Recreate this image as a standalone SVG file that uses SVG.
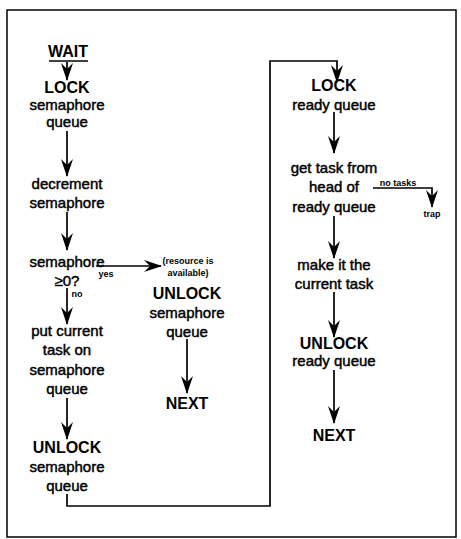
<svg xmlns="http://www.w3.org/2000/svg" width="461" height="539" viewBox="0 0 461 539">
<style>
text{font-family:"Liberation Sans",Arial,sans-serif;fill:#000;text-anchor:middle}
.t{font-size:15px;stroke:#000;stroke-width:0.45}
.b{font-size:16px;font-weight:bold}
.s{font-size:9px;font-weight:bold}
.ln{fill:none;stroke:#000;stroke-width:1.7}
</style>
<defs>
<marker id="ah" markerWidth="18" markerHeight="12" refX="17" refY="6" orient="auto" markerUnits="userSpaceOnUse" viewBox="0 0 18 12">
<path d="M0,0 L6,6 L0,12 L18,6 Z" fill="#000"/>
</marker>
</defs>
<rect x="7" y="10" width="449" height="527" fill="#fff" stroke="#000" stroke-width="1.5"/>
<g id="connectors">
<path class="ln" d="M67,62 V80" marker-end="url(#ah)"/>
<path class="ln" d="M67,131 V176" marker-end="url(#ah)"/>
<path class="ln" d="M67,212 V250" marker-end="url(#ah)"/>
<path class="ln" d="M67,288 V324" marker-end="url(#ah)"/>
<path class="ln" d="M96,266 H161" marker-end="url(#ah)"/>
<path class="ln" d="M67,398 V439" marker-end="url(#ah)"/>
<path class="ln" d="M67,494 V506 H270 V61 H337 V82" marker-end="url(#ah)"/>
<path class="ln" d="M187,339 V393" marker-end="url(#ah)"/>
<path class="ln" d="M334,112 V153" marker-end="url(#ah)"/>
<path class="ln" d="M373,188 H432 V207" marker-end="url(#ah)"/>
<path class="ln" d="M334,216 V258" marker-end="url(#ah)"/>
<path class="ln" d="M334,292 V337" marker-end="url(#ah)"/>
<path class="ln" d="M334,370 V423" marker-end="url(#ah)"/>
</g>
<g id="wait">
<text class="b" x="68" y="57">WAIT</text>
<line x1="49" y1="61" x2="88" y2="61" stroke="#000" stroke-width="1.6"/>
</g>
<g id="lock-sem">
<text class="b" x="67" y="93">LOCK</text>
<text class="t" x="67" y="110">semaphore</text>
<text class="t" x="67" y="127">queue</text>
</g>
<g id="decrement">
<text class="t" x="67" y="189">decrement</text>
<text class="t" x="67" y="208">semaphore</text>
</g>
<g id="test">
<text class="t" x="67" y="267">semaphore</text>
<text class="t" x="67" y="286">≥0?</text>
<text class="s" x="106" y="277">yes</text>
<text class="s" x="77" y="297">no</text>
</g>
<g id="put">
<text class="t" x="67" y="336">put current</text>
<text class="t" x="67" y="355">task on</text>
<text class="t" x="67" y="375">semaphore</text>
<text class="t" x="67" y="394">queue</text>
</g>
<g id="unlock-sem">
<text class="b" x="67" y="453">UNLOCK</text>
<text class="t" x="67" y="472">semaphore</text>
<text class="t" x="67" y="491">queue</text>
</g>
<g id="avail">
<text class="s" x="188" y="264">(resource is</text>
<text class="s" x="188" y="276">available)</text>
<text class="b" x="187" y="299">UNLOCK</text>
<text class="t" x="187" y="318">semaphore</text>
<text class="t" x="187" y="337">queue</text>
</g>
<g id="next1">
<text class="b" x="187" y="409">NEXT</text>
</g>
<g id="lock-ready">
<text class="b" x="334" y="91">LOCK</text>
<text class="t" x="334" y="110">ready queue</text>
</g>
<g id="get-task">
<text class="t" x="334" y="173">get task from</text>
<text class="t" x="334" y="192">head of</text>
<text class="t" x="334" y="212">ready queue</text>
<text class="s" x="398" y="186">no tasks</text>
</g>
<g id="trap">
<text class="s" x="432" y="217">trap</text>
</g>
<g id="make-current">
<text class="t" x="334" y="270">make it the</text>
<text class="t" x="334" y="289">current task</text>
</g>
<g id="unlock-ready">
<text class="b" x="334" y="349">UNLOCK</text>
<text class="t" x="334" y="366">ready queue</text>
</g>
<g id="next2">
<text class="b" x="334" y="441">NEXT</text>
</g>
</svg>
